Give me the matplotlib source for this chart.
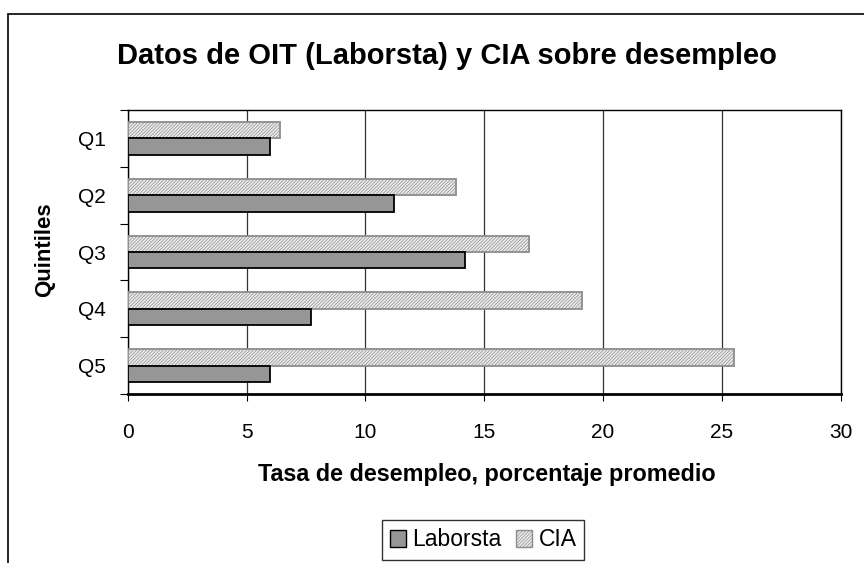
import matplotlib.pyplot as plt
from matplotlib.patches import Rectangle, Patch
import numpy as np

plt.rcParams['font.family'] = ['Liberation Sans', 'DejaVu Sans']
plt.rcParams['hatch.linewidth'] = 0.5
plt.rcParams['hatch.color'] = '#9a9a9a'

quintiles = ['Q1', 'Q2', 'Q3', 'Q4', 'Q5']
laborsta = np.array([6.0, 11.2, 14.2, 7.7, 6.0])
cia = np.array([6.4, 13.8, 16.9, 19.1, 25.5])

fig = plt.figure(figsize=(8.64, 5.63), dpi=100)
ax = fig.add_axes([127.7 / 864, 1 - 394 / 563, (840.7 - 127.7) / 864, (394 - 110) / 563])

# outer chart frame (runs off right and bottom edges)
fig.patches.append(Rectangle((8 / 864, -0.1), 1.2, 1 - 14 / 563 + 0.1, transform=fig.transFigure,
                             fill=False, edgecolor='black', linewidth=1.2, zorder=0))

y = np.arange(len(quintiles))
h = 0.288
ax.barh(y - h / 2, cia, height=h, color='#ececec', edgecolor='#8c8c8c', hatch='//////////',
        linewidth=1.3, label='CIA', zorder=3)
ax.barh(y + h / 2, laborsta, height=h, color='#969696', edgecolor='black',
        linewidth=1.3, label='Laborsta', zorder=3)

ax.set_xlim(0, 30)
ax.set_ylim(4.5, -0.5)
ax.set_xticks(np.arange(0, 31, 5))
ax.tick_params(axis='x', labelsize=15, length=5, width=0.8, direction='out', pad=16)
ax.set_yticks(y)
ax.set_yticklabels(quintiles)
ax.set_yticks(np.arange(-0.5, 5, 1), minor=True)
ax.tick_params(axis='y', which='major', length=0, labelsize=15, pad=16)
ax.tick_params(axis='y', which='minor', length=6, width=0.8, direction='out')
ax.grid(axis='x', color='#333333', linewidth=0.9, zorder=0)
for s in ax.spines.values():
    s.set_linewidth(1.0)
ax.spines['bottom'].set_linewidth(2.0)

ax.set_xlabel('Tasa de desempleo, porcentaje promedio', fontsize=16.8, fontweight='bold')
ax.xaxis.set_label_coords(487 / 864, 1 - 475 / 563, transform=fig.transFigure)
ax.xaxis.label.set_va('center')
ax.set_ylabel('Quintiles', fontsize=16, fontweight='bold')
ax.yaxis.set_label_coords(45 / 864, 1 - 250 / 563, transform=fig.transFigure)
ax.yaxis.label.set_va('center')
fig.text(447 / 864, 1 - 56 / 563, 'Datos de OIT (Laborsta) y CIA sobre desempleo',
         fontsize=21, fontweight='bold', ha='center', va='center')

handles = [Patch(facecolor='#969696', edgecolor='black', label='Laborsta'),
           Patch(facecolor='#ececec', edgecolor='#8c8c8c', hatch='//////////', label='CIA')]
fig.legend(handles=handles, loc='center', bbox_to_anchor=(483 / 864, 1 - 540 / 563), ncol=2,
           fontsize=16.5, frameon=True, fancybox=False, edgecolor='black', handlelength=0.7,
           handleheight=0.7, handletextpad=0.3, columnspacing=0.6, borderpad=0.35)

fig.savefig('out.png', dpi=100)
